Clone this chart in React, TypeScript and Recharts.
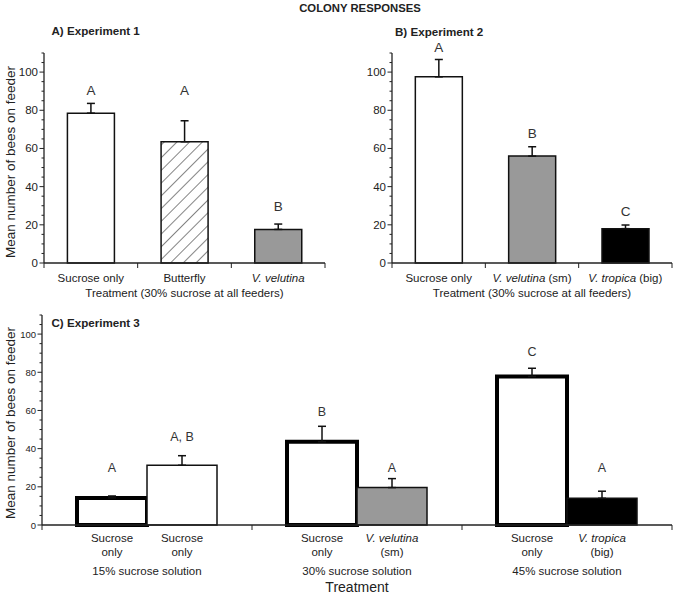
import React from 'react'
import { BarChart, Bar, Cell, XAxis, YAxis, ErrorBar, LabelList } from 'recharts'

const FONT = '"Liberation Sans", Arial, Helvetica, sans-serif'
const INK = '#222222'
const GREY = '#999999'

// shared y ticks (labels only on multiples of 20)
const yTicks = [0, 5, 10, 15, 20, 25, 30, 35, 40, 45, 50, 55, 60, 65, 70, 75, 80, 85, 90, 95, 100, 105, 110]

// A) Experiment 1
const exp1Categories = ['Sucrose only', 'Butterfly', 'V. velutina']
const exp1Means = [78.5, 63.5, 17.6]
const exp1Errors = [5.1, 11.0, 2.8]
const exp1Letters = ['A', 'A', 'B']
const exp1LetterAt = [90.5, 90.5, 29.5]
const exp1Fills = ['#ffffff', 'url(#hatch)', GREY]

// B) Experiment 2
const exp2Categories = ['Sucrose only', 'V. velutina (sm)', 'V. tropica (big)']
const exp2Means = [97.5, 56, 18]
const exp2Errors = [9.1, 4.9, 1.9]
const exp2Letters = ['A', 'B', 'C']
const exp2LetterAt = [112.7, 68, 26.9]
const exp2Fills = ['#ffffff', GREY, '#000000']

// C) Experiment 3
const exp3Groups = ['15% sucrose solution', '30% sucrose solution', '45% sucrose solution']
const exp3LeftLabels = [['Sucrose', 'only'], ['Sucrose', 'only'], ['Sucrose', 'only']]
const exp3RightLabels = [['Sucrose', 'only'], ['V. velutina', '(sm)'], ['V. tropica', '(big)']]
const exp3LeftMeans = [14.2, 43.6, 77.8]
const exp3LeftErrors = [1.0, 8.1, 4.3]
const exp3RightMeans = [31.3, 19.6, 14.0]
const exp3RightErrors = [5.0, 4.7, 3.7]
const exp3LeftLetters = ['A', 'B', 'C']
const exp3LeftLetterAt = [29.6, 59.2, 90.4]
const exp3RightLetters = ['A, B', 'A', 'A']
const exp3RightLetterAt = [46.2, 29.6, 29.6]
const exp3RightFills = ['#ffffff', GREY, '#000000']

const exp1Data = exp1Categories.map((name, i) => ({ name, mean: exp1Means[i], err: [0, exp1Errors[i]] }))
const exp2Data = exp2Categories.map((name, i) => ({ name, mean: exp2Means[i], err: [0, exp2Errors[i]] }))
const exp3Data = exp3Groups.map((name, i) => ({
  name,
  left: exp3LeftMeans[i],
  leftErr: [0, exp3LeftErrors[i]],
  right: exp3RightMeans[i],
  rightErr: [0, exp3RightErrors[i]],
}))

// italicise the species part of "V. xxx (yy)"
function speciesText(label: string) {
  if (label.startsWith('V. ')) {
    const parts = label.split(' ')
    const sp = parts.slice(0, 2).join(' ')
    const rest = parts.slice(2).join(' ')
    return (
      <>
        <tspan fontStyle="italic">{sp}</tspan>
        {rest && <tspan>{' ' + rest}</tspan>}
      </>
    )
  }
  return label
}

function YTick(props: any) {
  const { x, y, payload, fontSize } = props
  const v = payload.value
  const major = v % 20 === 0
  return (
    <g>
      <line x1={x - (major ? 4.5 : 2.5)} x2={x} y1={y} y2={y} stroke={INK} strokeWidth={1} />
      {major && (
        <text x={x - 6} y={y} textAnchor="end" dominantBaseline="central" fontSize={fontSize} fill={INK} fontFamily={FONT}>
          {v}
        </text>
      )}
    </g>
  )
}

function CatTick(props: any) {
  const { x, y, payload, index, labels, count, fallbackHalf } = props
  const half = payload?.offset ?? fallbackHalf
  return (
    <g>
      <line x1={x - half} x2={x - half} y1={y} y2={y + 5} stroke={INK} strokeWidth={1} />
      {index === count - 1 && <line x1={x + half} x2={x + half} y1={y} y2={y + 5} stroke={INK} strokeWidth={1} />}
      <text x={x} y={y + 15} textAnchor="middle" dominantBaseline="central" fontSize={11.5} fill={INK} fontFamily={FONT}>
        {speciesText(labels[index])}
      </text>
    </g>
  )
}

function GroupTick(props: any) {
  const { x, y, payload, index } = props
  const half = payload?.offset ?? 105
  const shift = half / 3
  const txt = (tx: number, ty: number, s: string, size = 11.5) => (
    <text x={tx} y={ty} textAnchor="middle" dominantBaseline="central" fontSize={size} fill={INK} fontFamily={FONT}>
      {speciesText(s)}
    </text>
  )
  return (
    <g>
      <line x1={x - half} x2={x - half} y1={y} y2={y + 5} stroke={INK} strokeWidth={1} />
      {index === exp3Groups.length - 1 && <line x1={x + half} x2={x + half} y1={y} y2={y + 5} stroke={INK} strokeWidth={1} />}
      {txt(x - shift, y + 13, exp3LeftLabels[index][0])}
      {txt(x - shift, y + 27, exp3LeftLabels[index][1])}
      {txt(x + shift, y + 13, exp3RightLabels[index][0])}
      {txt(x + shift, y + 27, exp3RightLabels[index][1])}
      {txt(x, y + 46, exp3Groups[index], 11.5)}
    </g>
  )
}

// significance letter, placed at a data value using the bar's own pixel scale
const letterContent = (letters: string[], at: number[], means: number[], size: number) => (props: any) => {
  const vb = props.viewBox ?? props
  const { x, y, width, height } = vb
  const i = props.index
  if (i == null || !height) return null
  const base = y + height
  const perUnit = height / means[i]
  return (
    <text x={x + width / 2} y={base - at[i] * perUnit} textAnchor="middle" dominantBaseline="central" fontSize={size} fill="#333" fontFamily={FONT}>
      {letters[i]}
    </text>
  )
}

const yLabel = (dy: number) => (props: any) => {
  const vb = props.viewBox
  const cy = vb.y + vb.height / 2 + dy
  return (
    <text x={10} y={cy} transform={`rotate(-90 10 ${cy})`} textAnchor="middle" dominantBaseline="central" fontSize={13.5} fill={INK} fontFamily={FONT}>
      Mean number of bees on feeder
    </text>
  )
}

const xTitle = (text: string, dy: number, size: number) => (props: any) => {
  const vb = props.viewBox
  return (
    <text x={vb.x + vb.width / 2} y={vb.y + dy} textAnchor="middle" dominantBaseline="central" fontSize={size} fill={INK} fontFamily={FONT}>
      {text}
    </text>
  )
}

function ThreeBarPanel(props: any) {
  const { data, fills, letters, letterAt, means, categories, yWidth, width, right, showYLabel } = props
  return (
    <BarChart width={width} height={300} data={data} margin={{ top: 53, right, bottom: 0, left: 0 }} barCategoryGap="25%">
      <XAxis
        dataKey="name"
        height={37}
        interval={0}
        tickSize={0}
        tickMargin={0}
        axisLine={{ stroke: INK, strokeWidth: 1.3 }}
        tickLine={false}
        tick={(p: any) => <CatTick {...p} labels={categories} count={categories.length} fallbackHalf={47} />}
        label={{ content: xTitle('Treatment (30% sucrose at all feeders)', 30, 11.5) }}
      />
      <YAxis
        type="number"
        domain={[0, 110]}
        ticks={yTicks}
        interval={0}
        width={yWidth}
        tickSize={0}
        tickMargin={0}
        axisLine={{ stroke: INK, strokeWidth: 1.3 }}
        tickLine={false}
        tick={(p: any) => <YTick {...p} fontSize={11.5} />}
        label={showYLabel ? { content: yLabel(4) } : undefined}
      />
      <Bar dataKey="mean" stroke="#111" strokeWidth={1.5} isAnimationActive={false}>
        {data.map((_: any, i: number) => (
          <Cell key={i} fill={fills[i]} />
        ))}
        <ErrorBar dataKey="err" width={4} strokeWidth={1.5} stroke="#111" direction="y" />
        <LabelList dataKey="mean" content={letterContent(letters, letterAt, means, 13.5)} />
      </Bar>
    </BarChart>
  )
}

export default function App() {
  return (
    <div style={{ position: 'absolute', left: 0, top: 0, width: 675, height: 595, background: '#fff', fontFamily: FONT }}>
      <svg width={0} height={0} style={{ position: 'absolute' }}>
        <defs>
          <pattern id="hatch" patternUnits="userSpaceOnUse" width={9} height={9} patternTransform="rotate(45)">
            <rect width={9} height={9} fill="#fff" />
            <line x1={0} y1={0} x2={0} y2={9} stroke="#333" strokeWidth={1.2} />
          </pattern>
        </defs>
      </svg>

      <div style={{ position: 'absolute', left: 0, top: 0 }}>
        <ThreeBarPanel
          data={exp1Data}
          fills={exp1Fills}
          letters={exp1Letters}
          letterAt={exp1LetterAt}
          means={exp1Means}
          categories={exp1Categories}
          yWidth={44}
          width={340}
          right={15}
          showYLabel
        />
      </div>

      <div style={{ position: 'absolute', left: 340, top: 0 }}>
        <ThreeBarPanel
          data={exp2Data}
          fills={exp2Fills}
          letters={exp2Letters}
          letterAt={exp2LetterAt}
          means={exp2Means}
          categories={exp2Categories}
          yWidth={52}
          width={335}
          right={3}
          showYLabel={false}
        />
      </div>

      <div style={{ position: 'absolute', left: 0, top: 300 }}>
        <BarChart width={675} height={295} data={exp3Data} margin={{ top: 15, right: 3, bottom: 0, left: 0 }} barCategoryGap="16.67%" barGap={0}>
          <XAxis
            dataKey="name"
            height={70}
            interval={0}
            tickSize={0}
            tickMargin={0}
            axisLine={{ stroke: INK, strokeWidth: 1.3 }}
            tickLine={false}
            tick={(p: any) => <GroupTick {...p} />}
            label={{ content: xTitle('Treatment', 62, 14) }}
          />
          <YAxis
            type="number"
            domain={[0, 110]}
            ticks={yTicks}
            interval={0}
            width={42}
            tickSize={0}
            tickMargin={0}
            axisLine={{ stroke: INK, strokeWidth: 1.3 }}
            tickLine={false}
            tick={(p: any) => <YTick {...p} fontSize={9.5} />}
            label={{ content: yLabel(3) }}
          />
          <Bar dataKey="left" fill="#fff" stroke="#000" strokeWidth={4} isAnimationActive={false}>
            <ErrorBar dataKey="leftErr" width={4} strokeWidth={1.5} stroke="#111" direction="y" />
            <LabelList dataKey="left" content={letterContent(exp3LeftLetters, exp3LeftLetterAt, exp3LeftMeans, 12.5)} />
          </Bar>
          <Bar dataKey="right" stroke="#111" strokeWidth={1.5} isAnimationActive={false}>
            {exp3Data.map((_, i) => (
              <Cell key={i} fill={exp3RightFills[i]} />
            ))}
            <ErrorBar dataKey="rightErr" width={4} strokeWidth={1.5} stroke="#111" direction="y" />
            <LabelList dataKey="right" content={letterContent(exp3RightLetters, exp3RightLetterAt, exp3RightMeans, 12.5)} />
          </Bar>
        </BarChart>
      </div>

      <svg width={675} height={595} style={{ position: 'absolute', left: 0, top: 0, pointerEvents: 'none' }}>
        <text x={360} y={8} textAnchor="middle" dominantBaseline="central" fontSize={11.3} fontWeight="bold" fill={INK} fontFamily={FONT}>
          COLONY RESPONSES
        </text>
        <text x={51.5} y={30.7} dominantBaseline="central" fontSize={11.6} fontWeight="bold" fill={INK} fontFamily={FONT}>
          A) Experiment 1
        </text>
        <text x={395} y={31.5} dominantBaseline="central" fontSize={11.6} fontWeight="bold" fill={INK} fontFamily={FONT}>
          B) Experiment 2
        </text>
        <text x={51.5} y={322} dominantBaseline="central" fontSize={11.6} fontWeight="bold" fill={INK} fontFamily={FONT}>
          C) Experiment 3
        </text>
      </svg>
    </div>
  )
}
